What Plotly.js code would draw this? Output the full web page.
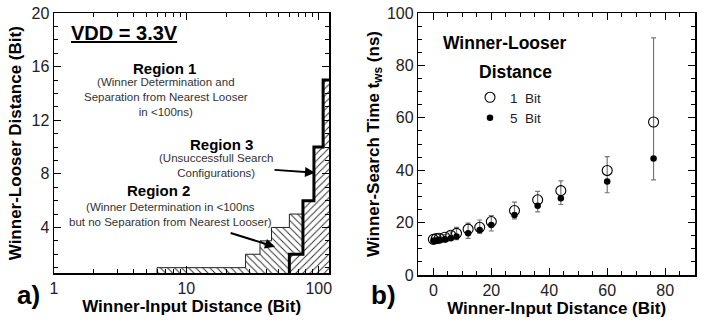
<!DOCTYPE html>
<html>
<head>
<meta charset="utf-8">
<script src="https://cdn.plot.ly/plotly-3.0.1.min.js"></script>
<style>html,body{margin:0;padding:0;background:#fff;}#chart{width:704px;height:322px;}</style>
</head>
<body>
<div id="chart"></div>
<script>
// ---- Panel a) : region boundaries (Winner-Input Distance vs Winner-Looser Distance)
var region2X = [6, 6, 28, 28, 36, 36, 44, 44, 60, 60, 76, 76, 60, 60];
var region2Y = [0, 1, 1, 2, 2, 3, 3, 4, 4, 5, 5, 2, 2, 0];
var region3X = [60, 60, 76, 76, 92, 92, 108, 108, 130, 130];
var region3Y = [0, 2, 2, 6, 6, 10, 10, 15, 15, 0];
var boundaryX = [60, 60, 76, 76, 92, 92, 108, 108, 130];
var boundaryY = [0, 2, 2, 6, 6, 10, 10, 15, 15];
var logTickVals = [1, 10, 100];
var logTickText = ['1', '10', '100'];
var logMinorVals = [2, 3, 4, 5, 6, 7, 8, 9, 20, 30, 40, 50, 60, 70, 80, 90];
var distTickVals = [4, 8, 12, 16, 20];

// ---- Panel b) : winner-search time
var inputDist = [0, 1, 2, 4, 6, 8, 12, 16, 20, 28, 36, 44, 60, 76];
var time1Bit  = [13.6, 13.9, 14.0, 14.4, 15.2, 15.9, 17.5, 18.2, 20.4, 24.6, 28.7, 32.2, 39.9, 58.4];
var err1Up    = [0.4, 0.5, 0.6, 1.0, 1.3, 2.3, 2.3, 2.8, 2.3, 3.2, 3.2, 3.7, 5.3, 32.1];
var err1Down  = [0.5, 0.7, 0.6, 0.8, 1.2, 1.2, 1.6, 1.0, 1.3, 1.7, 2.3, 2.9, 4.2, 13.9];
var time5Bit  = [13.1, 13.2, 13.4, 13.6, 14.0, 14.7, 15.9, 17.2, 19.1, 22.9, 26.4, 29.3, 35.7, 44.5];
var err5Down  = [0.4, 0.4, 0.5, 0.6, 0.8, 1.2, 1.9, 1.3, 2.3, 1.5, 2.3, 2.4, 4.3, 8.2];
var zeros     = [0, 0, 0, 0, 0, 0, 0, 0, 0, 0, 0, 0, 0, 0];

var FONT = 'Liberation Sans, Arial, Helvetica, sans-serif';
var L = 54, R = 9, T = 13, B = 47, W = 704, H = 322;
var PW = W - L - R, PH = H - T - B;
function px(x) { return (x - L) / PW; }
function py(y) { return 1 - (y - T) / PH; }

var traces = [
  { x: region3X, y: region3Y, xaxis: 'x', yaxis: 'y', mode: 'lines', fill: 'toself',
    line: { width: 0, color: '#000' }, fillcolor: 'white',
    fillpattern: { shape: '/', size: 5, solidity: 0.2, fgcolor: '#333', bgcolor: 'white' },
    showlegend: false, hoverinfo: 'skip' },
  { x: region2X, y: region2Y, xaxis: 'x', yaxis: 'y', mode: 'lines', fill: 'toself',
    line: { width: 1, color: '#222' }, fillcolor: 'white',
    fillpattern: { shape: '\\', size: 5, solidity: 0.2, fgcolor: '#333', bgcolor: 'white' },
    showlegend: false, hoverinfo: 'skip' },
  { x: boundaryX, y: boundaryY, xaxis: 'x', yaxis: 'y', mode: 'lines',
    line: { width: 3, color: '#000' }, showlegend: false, hoverinfo: 'skip' },
  { x: inputDist, y: time1Bit, xaxis: 'x2', yaxis: 'y2', mode: 'markers', name: '1  Bit',
    marker: { symbol: 'circle-open', size: 10, color: '#000', line: { width: 1.1, color: '#000' } },
    error_y: { type: 'data', symmetric: false, array: err1Up, arrayminus: err1Down,
               color: '#777', thickness: 1.2, width: 2.5 } },
  { x: inputDist, y: time5Bit, xaxis: 'x2', yaxis: 'y2', mode: 'markers', name: '5  Bit',
    marker: { symbol: 'circle', size: 6.5, color: '#000' },
    error_y: { type: 'data', symmetric: false, array: zeros, arrayminus: err5Down,
               color: '#777', thickness: 1.2, width: 2.5 } }
];

var axisCommon = {
  showline: true, linecolor: '#000', linewidth: 1.5, mirror: 'ticks',
  ticks: 'inside', ticklen: 7, tickwidth: 1, tickcolor: '#000',
  showgrid: false, zeroline: false,
  tickfont: { family: FONT, size: 16, color: '#222' },
  title: { font: { family: FONT, size: 17, color: '#000' } }
};
function ax(extra) { return Object.assign(JSON.parse(JSON.stringify(axisCommon)), extra); }

var layout = {
  width: W, height: H,
  margin: { l: L, r: R, t: T, b: B },
  paper_bgcolor: 'white', plot_bgcolor: 'white',
  font: { family: FONT, color: '#000' },
  xaxis: ax({ domain: [0, 0.4295], anchor: 'y', type: 'log', range: [0, 2.08],
    tickmode: 'array', tickvals: logTickVals, ticktext: logTickText,
    minor: { tickmode: 'array', tickvals: logMinorVals, ticks: 'inside', ticklen: 4, tickcolor: '#000' },
    title: { text: '<b>Winner-Input Distance (Bit)</b>', standoff: 4,
             font: { family: FONT, size: 17, color: '#000' } } }),
  yaxis: ax({ domain: [0.006, 1], anchor: 'x', range: [0.57, 20],
    tickmode: 'array', tickvals: distTickVals,
    minor: { dtick: 1, tick0: 0, ticks: 'inside', ticklen: 4, tickcolor: '#000' },
    title: { text: '<b>Winner-Looser Distance (Bit)</b>', standoff: 5,
             font: { family: FONT, size: 17, color: '#000' } } }),
  xaxis2: ax({ domain: [0.5683, 1], anchor: 'y2', range: [-5.2, 90.3],
    tickmode: 'linear', tick0: 0, dtick: 20,
    minor: { dtick: 5, tick0: 0, ticks: 'inside', ticklen: 4, tickcolor: '#000' },
    title: { text: '<b>Winner-Input Distance (Bit)</b>', standoff: 4,
             font: { family: FONT, size: 17, color: '#000' } } }),
  yaxis2: ax({ domain: [0, 1], anchor: 'x2', range: [0, 100],
    tickmode: 'linear', tick0: 0, dtick: 20,
    minor: { dtick: 5, tick0: 0, ticks: 'inside', ticklen: 4, tickcolor: '#000' },
    title: { text: '<b>Winner-Search Time t<sub>ws</sub> (ns)</b>', standoff: 3,
             font: { family: FONT, size: 17, color: '#000' } } }),
  showlegend: true,
  legend: { x: px(470), y: py(82), xanchor: 'left', yanchor: 'top',
    bgcolor: 'rgba(0,0,0,0)', borderwidth: 0, tracegroupgap: 0,
    font: { family: FONT, size: 13.5, color: '#222' } },
  annotations: []
};

function note(text, x, y, size, bold, color) {
  layout.annotations.push({ xref: 'paper', yref: 'paper', x: px(x), y: py(y),
    xanchor: 'center', yanchor: 'middle', showarrow: false, align: 'center',
    text: bold ? '<b>' + text + '</b>' : text,
    font: { family: FONT, size: size, color: color || '#000' } });
}
// text block centred at (tx, ty) with an arrow pointing to (hx, hy)
function callout(text, tx, ty, hx, hy, size, color, startOff) {
  layout.annotations.push({ xref: 'paper', yref: 'paper', x: px(hx), y: py(hy),
    ax: tx - hx, ay: ty - hy, xanchor: 'center', yanchor: 'middle', align: 'center',
    text: text, showarrow: true, arrowhead: 2, arrowsize: 1, arrowwidth: 2,
    arrowcolor: '#000', standoff: 0, startstandoff: startOff || 0,
    font: { family: FONT, size: size, color: color } });
}

note('<u>VDD = 3.3V</u>', 124, 33, 20, true);
note('Region 1', 164, 68, 15, true);
note('(Winner Determination and<br>Separation from Nearest Looser<br>in &lt;100ns)', 166, 97.3, 11.5, false, '#333');
note('Region 3', 221.7, 144, 15, true);
callout('(Unsuccessfull Search<br>Configurations)', 216, 165.8, 315, 172.7, 11.5, '#333', 0);
note('Region 2', 158.3, 190.5, 15, true);
callout('(Winner Determination in &lt;100ns<br>but no Separation from Nearest Looser)', 170.5, 214.5, 275, 246.7, 11.5, '#333', 12);
note('a)', 28, 295, 26, true);
note('b)', 383, 295, 26, true);
note('Winner-Looser', 505, 43, 17.5, true);
note('Distance', 515, 71.5, 17.5, true);

Plotly.newPlot('chart', traces, layout, { staticPlot: true, displayModeBar: false });
</script>
</body>
</html>
